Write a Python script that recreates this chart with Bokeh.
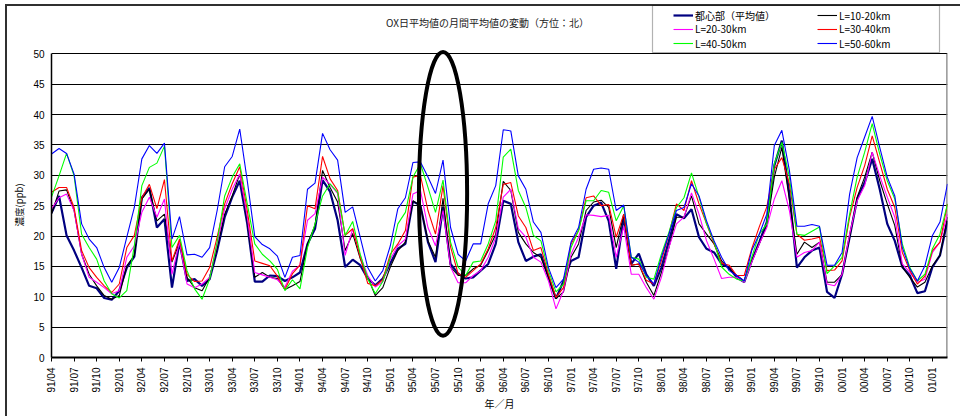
import math
from bokeh.plotting import figure
from bokeh.models import Range1d, FixedTicker, Label, Legend, LegendItem, BoxAnnotation
from bokeh.embed import file_html
from bokeh.resources import INLINE

# ---------------- data ----------------
MONTHS = [f"{(91 + (3 + k) // 12) % 100:02d}/{(3 + k) % 12 + 1:02d}" for k in range(120)]
TICK_LABELS = MONTHS[::3]
Y_TICKS = [0, 5, 10, 15, 20, 25, 30, 35, 40, 45, 50]

TITLE = "OX日平均値の月間平均値の変動（方位：北）"
Y_LABEL = "濃度(ppb)"
X_LABEL = "年／月"

SERIES_NAMES = ["都心部（平均値）", "L=10-20km", "L=20-30km", "L=30-40km", "L=40-50km", "L=50-60km"]

TOSHIN = [
    23.8, 26.6, 20.1, 17.6, 14.8, 11.8, 11.4, 9.8, 9.5, 11.0, 14.8, 16.6, 26.3, 27.9, 21.4, 22.8,
    11.5, 19.0, 12.6, 12.9, 11.8, 12.9, 17.6, 23.1, 26.4, 29.1, 22.0, 12.5, 12.5, 13.5,
    13.4, 12.6, 13.2, 14.0, 18.7, 21.2, 29.2, 27.3, 22.6, 14.9, 16.1, 15.2, 13.0, 11.9, 13.0,
    15.5, 17.9, 18.7, 25.7, 25.0, 19.0, 15.7, 24.8, 15.4, 13.8, 13.0, 13.2, 14.3, 15.4, 18.7,
    25.8, 25.3, 19.0, 15.9, 16.6, 17.0, 13.2, 9.7, 12.6, 15.9, 16.5, 23.1, 25.0, 25.5, 22.5,
    14.6, 23.1, 15.4, 17.1, 13.7, 11.8, 14.8, 19.2, 23.6, 22.9, 24.4, 19.8, 17.9, 17.3, 15.4,
    14.8, 13.2, 12.4, 15.9, 19.0, 22.3, 31.6, 35.7, 26.9, 14.8, 16.5, 17.6, 18.1, 10.8, 9.8,
    13.7, 19.8, 26.1, 28.8, 32.7, 27.7, 22.0, 19.2, 14.9, 13.5, 10.6, 10.9, 14.9, 16.8, 22.5,
]
L10_20 = [
    23.6, 27.4, 27.6, 24.2, 17.0, 13.7, 11.8, 10.2, 9.6, 10.2, 15.1, 16.8, 26.1, 27.7, 22.5, 23.6,
    15.7, 19.0, 13.2, 11.5, 11.0, 13.2, 18.1, 23.6, 26.6, 30.2, 22.5, 13.2, 14.0, 13.2,
    13.0, 11.2, 11.8, 12.5, 18.7, 21.8, 30.8, 28.0, 25.6, 17.6, 20.4, 16.3, 13.2, 10.2, 11.5,
    14.9, 17.6, 19.0, 25.8, 25.0, 19.2, 16.5, 26.2, 14.9, 13.5, 13.5, 14.6, 15.2, 17.6, 20.3,
    29.0, 27.5, 20.6, 18.7, 17.3, 16.5, 13.2, 9.7, 10.8, 16.5, 18.7, 24.2, 25.6, 25.9, 24.7,
    18.1, 23.6, 15.2, 15.4, 12.4, 10.2, 14.0, 18.1, 23.1, 23.1, 26.6, 22.0, 20.3, 18.7, 15.9,
    14.6, 13.5, 12.6, 15.9, 18.7, 21.7, 29.7, 34.6, 26.0, 17.0, 19.0, 18.1, 19.0, 12.4, 12.4,
    13.7, 19.8, 26.4, 29.7, 33.8, 29.1, 25.3, 21.7, 14.9, 13.2, 11.6, 12.4, 15.1, 16.8, 23.1,
]
L20_30 = [
    24.5, 26.3, 26.9, 24.2, 17.0, 13.2, 12.4, 11.5, 10.5, 11.0, 16.5, 18.4, 23.9, 26.4, 23.1, 26.1,
    13.7, 19.0, 12.1, 11.5, 12.1, 13.2, 18.7, 24.5, 27.7, 30.2, 23.1, 14.0, 13.6, 13.2,
    12.8, 11.6, 14.2, 15.2, 22.6, 23.7, 29.7, 28.5, 27.0, 16.8, 21.2, 16.8, 13.5, 11.6, 12.5,
    16.2, 18.4, 19.5, 26.9, 27.5, 21.4, 18.4, 24.2, 14.9, 12.3, 12.3, 13.5, 14.3, 16.5, 19.8,
    26.4, 27.7, 21.2, 19.8, 16.5, 15.7, 12.6, 8.0, 11.0, 17.0, 19.8, 23.5, 23.4, 23.2, 23.4,
    16.5, 21.6, 13.7, 13.7, 11.5, 9.6, 13.2, 18.1, 22.0, 23.1, 27.1, 23.6, 19.2, 16.2, 13.0,
    13.2, 13.2, 12.4, 15.7, 18.7, 21.4, 26.1, 29.1, 24.2, 16.5, 17.3, 17.6, 19.0, 12.1, 11.8,
    13.7, 20.3, 25.8, 28.3, 33.8, 29.9, 26.4, 23.1, 15.4, 14.0, 12.4, 12.9, 17.3, 19.0, 23.6,
]
L30_40 = [
    27.2, 28.0, 28.0, 24.7, 17.6, 14.8, 13.2, 11.8, 10.7, 12.1, 18.1, 20.1, 26.3, 28.5, 24.5, 29.3,
    15.9, 19.5, 13.7, 12.5, 12.6, 14.8, 19.8, 25.3, 28.6, 31.4, 24.2, 15.9, 15.5, 15.1,
    13.4, 11.2, 13.8, 15.2, 25.0, 24.5, 33.1, 29.4, 27.5, 20.1, 21.2, 16.5, 12.2, 11.8, 12.8,
    17.0, 18.7, 20.9, 29.7, 30.0, 24.2, 20.3, 28.3, 18.2, 13.8, 13.2, 14.3, 15.4, 17.9, 21.4,
    28.5, 28.8, 23.3, 21.4, 17.6, 18.1, 13.7, 9.9, 11.5, 18.7, 20.9, 26.3, 26.6, 25.0, 25.2,
    19.8, 23.6, 15.2, 15.4, 12.7, 12.1, 15.9, 20.3, 25.3, 24.2, 29.1, 25.3, 22.0, 18.7, 15.5,
    15.2, 13.5, 13.5, 17.9, 21.5, 24.8, 31.0, 32.9, 28.6, 20.3, 19.3, 19.5, 19.8, 14.3, 14.4,
    15.9, 23.1, 28.0, 31.6, 36.5, 32.1, 27.7, 24.7, 17.3, 14.3, 12.1, 13.4, 17.6, 19.0, 25.3,
]
L40_50 = [
    26.4, 29.9, 33.6, 29.9, 20.3, 18.1, 16.2, 12.6, 10.5, 9.8, 11.0, 18.4, 28.3, 31.3, 32.0, 34.8,
    18.1, 20.1, 14.3, 11.3, 9.6, 12.9, 19.0, 26.6, 29.7, 31.9, 25.3, 18.7, 17.0, 15.9,
    14.5, 11.0, 12.8, 11.3, 18.1, 22.0, 26.6, 28.6, 27.2, 20.1, 22.4, 17.0, 13.0, 10.5, 12.5,
    16.5, 22.0, 23.9, 29.7, 31.9, 28.0, 23.9, 29.2, 19.0, 14.9, 13.5, 15.7, 15.9, 18.7, 22.5,
    33.0, 34.3, 27.5, 24.7, 20.1, 19.2, 14.3, 10.8, 12.1, 18.1, 20.9, 25.8, 25.8, 27.5, 27.2,
    22.5, 25.0, 16.5, 16.2, 13.2, 12.9, 17.0, 20.6, 24.7, 26.3, 30.4, 26.4, 22.0, 19.0, 14.9,
    13.7, 12.9, 12.6, 16.5, 20.3, 22.0, 31.9, 35.4, 29.7, 20.3, 20.1, 20.8, 21.5, 13.8, 15.1,
    16.5, 23.6, 29.7, 33.8, 38.5, 33.5, 29.1, 26.1, 18.7, 14.8, 12.6, 13.7, 17.9, 20.3, 25.3,
]
L50_60 = [
    33.5, 34.4, 33.6, 30.2, 22.0, 19.5, 18.1, 14.8, 12.4, 14.8, 19.8, 24.7, 32.7, 34.9, 33.6, 35.3,
    19.5, 23.2, 16.9, 17.0, 16.5, 18.1, 24.2, 31.4, 33.1, 37.6, 29.1, 19.9, 18.6, 17.9,
    16.7, 13.2, 16.5, 16.8, 27.7, 28.7, 36.9, 34.2, 32.5, 23.9, 24.8, 19.8, 14.8, 12.6, 14.3,
    18.4, 24.5, 26.3, 32.1, 32.2, 29.7, 27.0, 32.5, 21.4, 17.0, 15.9, 18.7, 18.7, 25.3, 28.3,
    37.5, 37.3, 29.9, 27.7, 22.3, 20.6, 14.8, 11.5, 12.9, 19.0, 21.4, 27.7, 31.0, 31.2, 31.0,
    24.2, 25.1, 16.5, 15.7, 13.5, 12.1, 16.5, 20.3, 24.2, 24.7, 28.6, 26.6, 22.5, 19.2, 16.5,
    14.3, 13.5, 12.6, 17.6, 20.3, 23.6, 34.9, 37.4, 30.8, 21.6, 21.6, 21.9, 21.6, 15.2, 15.2,
    17.3, 26.9, 32.9, 36.3, 39.7, 34.6, 29.7, 26.6, 18.1, 14.6, 12.6, 15.1, 20.1, 22.3, 28.6,
]

# highlighted period (ellipse drawn by hand on the original)
HIGHLIGHT_MONTH = "95/08"
HIGHLIGHT_SPAN_MONTHS = 6.4
HIGHLIGHT_LOW = 3.6
HIGHLIGHT_HIGH = 50.3

# ---------------- layout / styles ----------------
W, H = 960, 416
FRAME_LEFT, FRAME_RIGHT, FRAME_BOTTOM = 51, 947, 357
Y_MAX_PX = 53.3          # pixel row of the 50 ppb line
Y_MAX = 50
COLORS = ["#000080", "#000000", "#FF00FF", "#FF0000", "#00FF00", "#0000FF"]
WIDTHS = [2.2, 1.1, 1.1, 1.1, 1.1, 1.1]
JP_FONT = "Noto Sans CJK JP"
NUM_FONT = "Liberation Sans"
# legend slots: (series index, glyph left px, row centre px)
LEGEND_SLOTS = [(0, 673, 15), (1, 817, 15), (2, 673, 28.5), (3, 817, 28.5), (4, 673, 43), (5, 817, 43)]
LEGEND_ROW_H = 18

n = len(MONTHS)
x = list(range(n))
tick_pos = [MONTHS.index(t) for t in TICK_LABELS]

x_per_px = (n - 1) / (FRAME_RIGHT - FRAME_LEFT)
y_per_px = Y_MAX / (FRAME_BOTTOM - Y_MAX_PX)
y_top = FRAME_BOTTOM * y_per_px


def px2x(px):
    return (px - FRAME_LEFT) * x_per_px


def py2y(py):
    return (FRAME_BOTTOM - py) * y_per_px


p = figure(width=W, height=H, output_backend="svg", toolbar_location=None, title=None,
           x_range=Range1d(0, n - 1), y_range=Range1d(0, y_top),
           min_border_left=FRAME_LEFT, min_border_right=W - FRAME_RIGHT,
           min_border_top=0, min_border_bottom=H - FRAME_BOTTOM)
p.styles = {
    "background": "linear-gradient(#303030,#303030) 5px 4px / 955px 2px no-repeat, "
                  "linear-gradient(#303030,#303030) 5px 4px / 2px 412px no-repeat, #ffffff"
}
p.background_fill_color = None
p.border_fill_color = None
p.outline_line_color = None

p.xgrid.grid_line_color = None
p.ygrid.ticker = FixedTicker(ticks=Y_TICKS)
p.ygrid.grid_line_color = "black"
p.ygrid.grid_line_width = 1

p.yaxis.ticker = FixedTicker(ticks=Y_TICKS)
p.yaxis.bounds = (0, Y_MAX)
p.yaxis.major_tick_in = 0
p.yaxis.major_tick_out = 0
p.yaxis.minor_tick_line_color = None
p.yaxis.major_label_standoff = 7
p.yaxis.major_label_text_font = NUM_FONT
p.yaxis.major_label_text_font_size = "10px"
p.yaxis.major_label_text_color = "black"
p.yaxis.axis_line_color = "black"
p.yaxis.axis_line_width = 1.5
# the axis title is centred on the whole frame; trailing ideographic spaces
# move the visible text down to the middle of the 0-50 scale
p.yaxis.axis_label = Y_LABEL + "\u3000" * 5 + "\u00a0\u00a0"
p.yaxis.axis_label_text_font = JP_FONT
p.yaxis.axis_label_text_font_size = "9.5px"
p.yaxis.axis_label_text_font_style = "normal"
p.yaxis.axis_label_text_color = "black"
p.yaxis.axis_label_standoff = 4

p.xaxis.ticker = FixedTicker(ticks=tick_pos)
p.xaxis.major_label_overrides = {pos: lab for pos, lab in zip(tick_pos, TICK_LABELS)}
p.xaxis.major_label_orientation = math.pi / 2
p.xaxis.major_tick_in = 0
p.xaxis.major_tick_out = 4
p.xaxis.major_tick_line_color = "black"
p.xaxis.minor_tick_line_color = None
p.xaxis.major_label_standoff = 6
p.xaxis.major_label_text_font = NUM_FONT
p.xaxis.major_label_text_font_size = "10px"
p.xaxis.major_label_text_color = "black"
p.xaxis.axis_line_color = "black"
p.xaxis.axis_line_width = 2
p.xaxis.axis_label = X_LABEL
p.xaxis.axis_label_text_font = JP_FONT
p.xaxis.axis_label_text_font_size = "10px"
p.xaxis.axis_label_text_font_style = "normal"
p.xaxis.axis_label_text_color = "black"
p.xaxis.axis_label_standoff = 0

# right border of the plot area
p.segment(x0=[n - 1], y0=[0], x1=[n - 1], y1=[Y_MAX], line_color="#808080", line_width=2.5)

series = [TOSHIN, L10_20, L20_30, L30_40, L40_50, L50_60]
renderers = []
for vals, col, w in zip(series, COLORS, WIDTHS):
    renderers.append(p.line(x, vals, line_color=col, line_width=w))

# highlight ellipse
hx = MONTHS.index(HIGHLIGHT_MONTH)
p.ellipse(x=[hx], y=[(HIGHLIGHT_LOW + HIGHLIGHT_HIGH) / 2],
          width=[HIGHLIGHT_SPAN_MONTHS], height=[HIGHLIGHT_HIGH - HIGHLIGHT_LOW],
          fill_color=None, line_color="black", line_width=4)

# legend: box + one single-item legend per slot
p.add_layout(BoxAnnotation(left=px2x(652), right=px2x(939), top=py2y(5), bottom=py2y(52),
                           fill_color=None, fill_alpha=0, line_color="black", line_width=1.2,
                           level="overlay"))

for idx, gx, cy in LEGEND_SLOTS:
    p.add_layout(Legend(items=[LegendItem(label=SERIES_NAMES[idx], renderers=[renderers[idx]])],
                        location=(gx - FRAME_LEFT, FRAME_BOTTOM - (cy + LEGEND_ROW_H / 2)),
                        orientation="vertical", padding=0, spacing=0, margin=0,
                        glyph_width=20, glyph_height=LEGEND_ROW_H, label_height=LEGEND_ROW_H,
                        label_standoff=2,
                        label_text_font=JP_FONT, label_text_font_size="10px",
                        label_text_color="black",
                        background_fill_alpha=0, border_line_alpha=0))

# title
p.add_layout(Label(x=px2x(487), y=py2y(22), text=TITLE,
                   text_align="center", text_baseline="middle",
                   text_font=JP_FONT, text_font_size="10px", text_color="#222222"))

open("out.html", "w").write(file_html(p, INLINE))
